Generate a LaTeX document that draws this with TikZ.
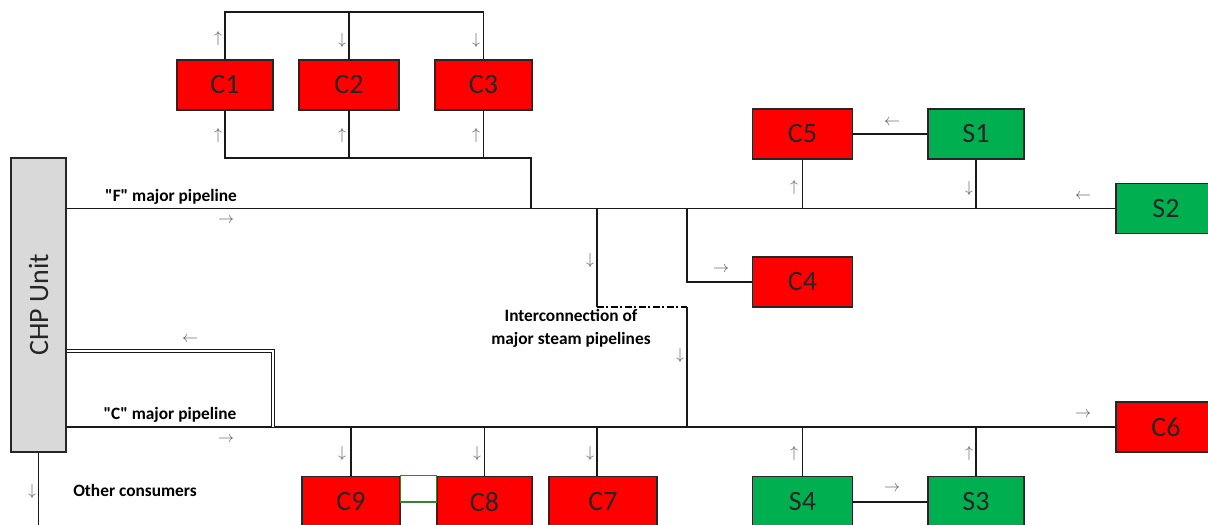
\documentclass[tikz,border=0pt]{standalone}
\usepackage{fontspec}
\setmainfont{Carlito}[Ligatures=TeXOff]
\usepackage{tikz}
\usetikzlibrary{positioning,calc}
\definecolor{cred}{HTML}{FF0000}
\definecolor{sgreen}{HTML}{00B050}
\definecolor{chpgray}{HTML}{D9D9D9}
\definecolor{edge}{HTML}{262626}
\tikzset{
  unitbox/.style={draw=edge, line width=1.2pt, minimum width=75pt, minimum height=37.5pt,
    inner sep=0pt, font=\fontsize{21}{24}\selectfont, text=black!85},
  cbox/.style={unitbox, fill=cred},
  sbox/.style={unitbox, fill=sgreen},
  pipe/.style={line width=1.4pt, draw=black!90},
  flowmark/.style={font=\fontsize{13}{13}\selectfont, text=black!65, inner sep=0pt},
  pipelabel/.style={font=\fontsize{13}{17.25}\selectfont\bfseries, align=center, inner sep=0pt},
}

\begin{document}
\begin{tikzpicture}[x=0.75pt,y=-0.75pt]
  \useasboundingbox (0,0) rectangle (1208,525);
  \clip (0,0) rectangle (1208,525);
  % CHP unit
  \node[draw=edge, line width=1.2pt, fill=chpgray, minimum width=41.25pt, minimum height=220.5pt,
    inner sep=0pt] (chp) at (38.5,305) {};
  \node[rotate=90, font=\fontsize{21}{24}\selectfont, text=black!85] (chptext) at (chp.center) {CHP Unit};
  % consumers and sources
  \node[cbox, minimum width=72pt] (c1) at (225,85) {C1};
  \node[cbox] (c2) at (349,85) {C2};
  \node[cbox, minimum width=72.75pt] (c3) at (483.5,85) {C3};
  \node[cbox] (c5) at (802.5,134) {C5};
  \node[sbox, minimum width=72pt] (s1) at (976,134) {S1};
  \node[sbox] (s2) at (1166,208.5) {S2};
  \node[cbox] (c4) at (802.5,282) {C4};
  \node[cbox] (c6) at (1166,427) {C6};
  \node[sbox, minimum height=38.25pt] (s4) at (802.5,502) {S4};
  \node[sbox, minimum width=72pt, minimum height=38.25pt] (s3) at (976,502) {S3};
  \node[cbox, minimum width=73.5pt, minimum height=38.25pt] (c9) at (351,502) {C9};
  \node[cbox, minimum width=71.25pt, minimum height=38.25pt] (c8) at (484.5,502) {C8};
  \node[cbox, minimum width=81pt, minimum height=38.25pt] (c7) at (603,502) {C7};
  % junction points
  \coordinate (ftap) at (531,208);
  \coordinate (ia) at (597,208);
  \coordinate (ib) at (597,307);
  \coordinate (ic) at (687,307);
  \coordinate (id) at (687,427);
  \coordinate (c4tap) at (687,208);
  \coordinate (ret) at (273,427);
  % major pipelines
  \draw[pipe] (chp.east |- s2.west) -- (s2.west);
  \draw[pipe] (chp.east |- c6.west) -- (c6.west);
  \draw[pipe, double, double distance=1.6pt, line width=0.7pt] (chp.east |- 0,351) -| (ret);
  \draw[pipe] (chp.south) -- (chp.south |- 0,530);
  % top group
  \draw[pipe] (c1.north) -- (c1.north |- 0,12) -| (c3.north);
  \draw[pipe] (c2.north) -- (c2.north |- 0,12);
  \draw[pipe] (c1.south) |- (ftap |- 0,158) -- (ftap);
  \draw[pipe] (c2.south) -- (c2.south |- 0,158);
  \draw[pipe] (c3.south) -- (c3.south |- 0,158);
  % interconnection
  \draw[pipe] (ia) -- (ib);
  \draw[line width=1.4pt, dash pattern=on 5pt off 2pt on 1.5pt off 2pt] (ib) -- (ic);
  \draw[pipe] (ic) -- (id);
  \draw[pipe] (c4tap) |- (c4.west);
  % right side
  \draw[pipe] (c5.south) -- (c5.south |- s2.west);
  \draw[pipe] (s1.south) -- (s1.south |- s2.west);
  \draw[pipe] (s1.west) -- (c5.east);
  \draw[pipe] (s4.north) -- (s4.north |- c6.west);
  \draw[pipe] (s3.north) -- (s3.north |- c6.west);
  \draw[pipe] (s4.east) -- (s3.west);
  % bottom consumers
  \draw[pipe] (c9.north) -- (c9.north |- c6.west);
  \draw[pipe] (c8.north) -- (c8.north |- c6.west);
  \draw[pipe] ($(c7.north)+(-6,0)$) -- ($(c7.north |- c6.west)+(-6,0)$);
  \draw[draw=green!40!black!80, line width=0.9pt] (c9.north east) rectangle (c8.west);
  % labels
  \node[pipelabel] (flabel) at (171,197) {"F" major pipeline};
  \node[pipelabel] (clabel) at (170,415) {"C" major pipeline};
  \node[pipelabel, anchor=west] (other) at (73,490) {Other consumers};
  \node[pipelabel] (ilabel) at (571,328) {Interconnection of\\major steam pipelines};
  % flow directions
  \node[flowmark] (f1) at (226,221) {$\rightarrow$};
  \node[flowmark] (f2) at (226,440) {$\rightarrow$};
  \node[flowmark] (f3) at (190,340) {$\leftarrow$};
  \node[flowmark] (f4) at (32,491) {$\downarrow$};
  \node[flowmark] (f5) at (218,38) {$\uparrow$};
  \node[flowmark] (f6) at (342,40) {$\downarrow$};
  \node[flowmark] (f7) at (476,40) {$\downarrow$};
  \node[flowmark] (f8) at (218,135) {$\uparrow$};
  \node[flowmark] (f9) at (342,135) {$\uparrow$};
  \node[flowmark] (f10) at (476,135) {$\uparrow$};
  \node[flowmark] (f11) at (590,260) {$\downarrow$};
  \node[flowmark] (f12) at (680,355) {$\downarrow$};
  \node[flowmark] (f13) at (721,270) {$\rightarrow$};
  \node[flowmark] (f14) at (892,123) {$\leftarrow$};
  \node[flowmark] (f15) at (794,187) {$\uparrow$};
  \node[flowmark] (f16) at (969,188) {$\downarrow$};
  \node[flowmark] (f17) at (1083,197) {$\leftarrow$};
  \node[flowmark] (f18) at (1083,415) {$\rightarrow$};
  \node[flowmark] (f19) at (794,453) {$\uparrow$};
  \node[flowmark] (f20) at (969,453) {$\uparrow$};
  \node[flowmark] (f21) at (892,489) {$\rightarrow$};
  \node[flowmark] (f22) at (342,453) {$\downarrow$};
  \node[flowmark] (f23) at (477,453) {$\downarrow$};
  \node[flowmark] (f24) at (590,453) {$\downarrow$};
\end{tikzpicture}
\end{document}
